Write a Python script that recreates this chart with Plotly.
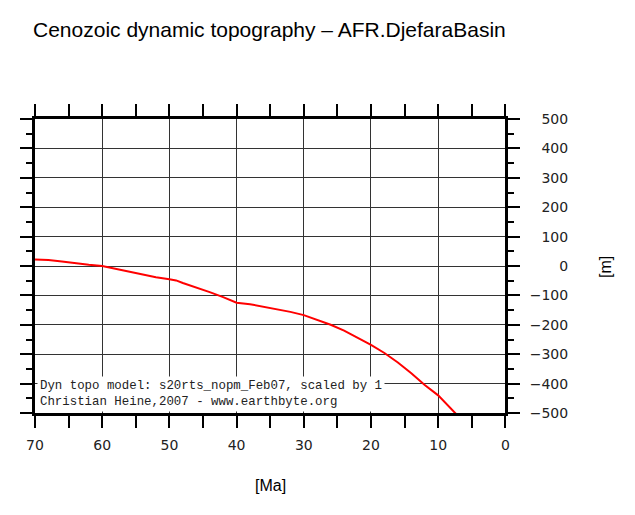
import plotly.graph_objects as go

# Data
age_ma = [70, 68, 66, 64, 62, 60, 58, 56, 54, 52, 50, 49, 48, 46, 44, 42, 40, 38, 36, 34,
          32, 30, 28, 26, 24, 22, 20, 18, 16, 14, 12, 10, 8, 6]
topo_m = [22, 20, 15, 9, 4, 0, -10, -18, -28, -38, -45, -49, -58, -73, -89, -106, -125, -130,
          -138, -147, -156, -167, -183, -200, -220, -243, -268, -296, -328, -365, -405, -440,
          -486, -535]

x_ticks = [70, 60, 50, 40, 30, 20, 10, 0]
y_ticks = [500, 400, 300, 200, 100, 0, -100, -200, -300, -400, -500]
y_ticktext = [str(v).replace("-", "\u2212") for v in y_ticks]

title_text = "Cenozoic dynamic topography \u2013 AFR.DjefaraBasin"
note_text = "Dyn topo model: s20rts_nopm_Feb07, scaled by 1<br>Christian Heine,2007 - www.earthbyte.org"

# page body has an 8px margin; work in figure coordinates = page - 8
OFF = 8
W, H = 635 - OFF, 515 - OFF
L = 33 - OFF
T = 119 - OFF
B = H - (413 - OFF)
R = 20
plot_w = W - L - R
dom_end = (505 - 33) / plot_w
lab_pos = (568 - 33) / plot_w
plot_h = 413 - 119

tick_font = dict(family="DejaVu Sans", size=14, color="#222")

fig = go.Figure()
fig.add_trace(go.Scatter(x=age_ma, y=topo_m, mode="lines",
                         line=dict(color="#ff0000", width=2), showlegend=False,
                         hoverinfo="skip"))
fig.add_trace(go.Scatter(x=age_ma, y=topo_m, mode="lines", yaxis="y2",
                         line=dict(color="rgba(0,0,0,0)", width=0), showlegend=False,
                         hoverinfo="skip"))

fig.update_layout(
    width=W, height=H,
    margin=dict(l=L, r=R, t=T, b=B),
    paper_bgcolor="white", plot_bgcolor="white",
    title=dict(text=title_text, x=L / W, xanchor="left", xref="container",
               y=1 - (30 - OFF) / H, yanchor="middle", yref="container",
               font=dict(family="Liberation Sans", size=21, color="#000")),
    xaxis=dict(domain=[0, dom_end], range=[70, 0], tickvals=x_ticks,
               ticks="outside", ticklen=12, tickwidth=2, tickcolor="#000",
               minor=dict(dtick=5, tick0=0, ticks="outside", ticklen=6, tickwidth=2,
                          tickcolor="#000", showgrid=False),
               showline=True, linewidth=3, linecolor="#000", mirror="allticks",
               showgrid=True, gridcolor="#333", gridwidth=1, zeroline=False,
               tickfont=tick_font, ticklabelstandoff=5),
    yaxis=dict(range=[-500, 500], tickvals=y_ticks, side="right", showticklabels=False,
               ticks="outside", ticklen=12, tickwidth=2, tickcolor="#000",
               minor=dict(dtick=50, tick0=0, ticks="outside", ticklen=6, tickwidth=2,
                          tickcolor="#000", showgrid=False),
               showline=True, linewidth=3, linecolor="#000", mirror="allticks",
               showgrid=True, gridcolor="#333", gridwidth=1, zeroline=False),
    yaxis2=dict(range=[-500, 500], tickvals=y_ticks, ticktext=y_ticktext,
                overlaying="y", anchor="free", position=lab_pos, side="left",
                showgrid=False, showline=False, ticks="", zeroline=False,
                tickfont=tick_font),
    annotations=[
        dict(text=note_text, xref="paper", yref="paper", x=2 / plot_w, y=0.004,
             xanchor="left", yanchor="bottom", align="left", showarrow=False,
             bgcolor="white", borderpad=2,
             font=dict(family="Liberation Mono", size=12.4, color="#222")),
        dict(text="[Ma]", xref="paper", yref="paper", x=(269 - 33) / plot_w,
             y=(413 - 485) / plot_h, xanchor="center", yanchor="middle",
             showarrow=False, font=dict(family="Liberation Sans", size=16, color="#000")),
        dict(text="[m]", xref="paper", yref="paper", x=(605 - 33) / plot_w,
             y=(413 - 267) / plot_h, xanchor="center", yanchor="middle",
             textangle=-90, showarrow=False,
             font=dict(family="Liberation Sans", size=16, color="#000")),
    ],
)

fig.write_html("out.html")
